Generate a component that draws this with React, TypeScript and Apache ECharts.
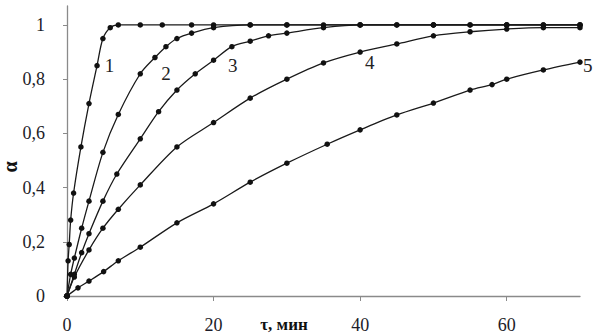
import React, { useEffect, useRef } from "react";
import * as echarts from "echarts";

// [τ (min), α]
const curve1: number[][] = [
  [0, 0], [0.15, 0.13], [0.3, 0.19], [0.5, 0.28], [0.9, 0.38], [1.9, 0.55], [3, 0.71],
  [4.1, 0.85], [4.9, 0.95], [5.9, 0.99], [7, 1], [10, 1], [13, 1], [17, 1], [20, 1],
  [25, 1], [30, 1], [35, 1], [40, 1], [45, 1], [50, 1], [55, 1], [60, 1], [65, 1], [70, 1],
];
const curve2: number[][] = [
  [0, 0], [0.5, 0.08], [1, 0.14], [2, 0.25], [3, 0.35], [4.9, 0.53], [7, 0.67], [10, 0.82],
  [12, 0.88], [13.5, 0.92], [15, 0.95], [17, 0.97], [20, 0.99], [25, 1], [30, 1], [40, 1],
  [50, 1], [60, 1], [70, 1],
];
const curve3: number[][] = [
  [0, 0], [1, 0.08], [2, 0.16], [3, 0.23], [4.9, 0.35], [6.8, 0.45], [10, 0.58], [12.5, 0.68],
  [15, 0.76], [17.5, 0.82], [20, 0.87], [22.5, 0.92], [25, 0.94], [27.5, 0.96], [30, 0.97],
  [35, 0.99], [40, 1], [45, 1], [50, 1], [55, 1], [60, 1], [65, 1], [70, 1],
];
const curve4: number[][] = [
  [0, 0], [1, 0.07], [3, 0.17], [4.9, 0.25], [7, 0.32], [10, 0.41], [15, 0.55], [20, 0.64],
  [25, 0.73], [30, 0.8], [35, 0.86], [40, 0.9], [45, 0.93], [50, 0.96], [55, 0.975],
  [60, 0.985], [65, 0.99], [70, 0.99],
];
const curve5: number[][] = [
  [0, 0], [1.5, 0.03], [3, 0.055], [5, 0.09], [7, 0.13], [10, 0.18], [15, 0.27], [20, 0.34],
  [25, 0.42], [30, 0.49], [35.5, 0.56], [40, 0.613], [45, 0.668], [50, 0.712], [55, 0.76],
  [58, 0.78], [60, 0.8], [65, 0.834], [70, 0.863],
];
const curves = [curve1, curve2, curve3, curve4, curve5];
const curveNames = ["1", "2", "3", "4", "5"];
// label anchor positions in data space [τ, α]; curve 5 uses an end label
const labelPos: (number[] | null)[] = [[5.8, 0.85], [13.5, 0.82], [22.6, 0.85], [41.3, 0.86], null];

const yTicks = [0, 0.2, 0.4, 0.6, 0.8, 1];
const xTicks = [0, 20, 40, 60];

const FONT = "'Liberation Serif', 'Times New Roman', serif";

export default function App() {
  const ref = useRef<HTMLDivElement>(null);
  useEffect(() => {
    if (!ref.current) return;
    const chart = echarts.init(ref.current, undefined, { renderer: "svg" });
    chart.setOption({
      animation: false,
      backgroundColor: "#fff",
      grid: { left: 67, right: 18, top: 6, bottom: 38, containLabel: false },
      xAxis: {
        type: "value",
        min: 0,
        max: 70,
        interval: 20,
        splitLine: { show: false },
        axisLine: { show: true, onZero: false, lineStyle: { color: "#8a8a8a", width: 1.3 } },
        axisTick: { show: true, length: 5, customValues: xTicks, lineStyle: { color: "#8a8a8a" } },
        axisLabel: {
          customValues: xTicks,
          margin: 20,
          fontFamily: FONT,
          fontSize: 18,
          color: "#1c1c28",
        },
      },
      yAxis: {
        type: "value",
        min: 0,
        max: 1.07,
        interval: 0.2,
        splitLine: { show: false },
        axisLine: { show: true, onZero: false, lineStyle: { color: "#8a8a8a", width: 1.3 } },
        axisTick: { show: true, length: 4, customValues: yTicks, lineStyle: { color: "#8a8a8a" } },
        axisLabel: {
          customValues: yTicks,
          margin: 22,
          fontFamily: FONT,
          fontSize: 18,
          color: "#1c1c28",
          formatter: (v: number) => String(Math.round(v * 10) / 10).replace(".", ","),
        },
      },
      graphic: [
        {
          type: "text",
          x: 10,
          y: 167,
          rotation: Math.PI / 2,
          style: {
            text: "α",
            font: `bold 20px ${FONT}`,
            fill: "#111",
            align: "center",
            verticalAlign: "middle",
          },
        },
        {
          type: "text",
          x: 284,
          y: 324,
          style: {
            text: "τ, мин",
            font: `bold 17px ${FONT}`,
            fill: "#111",
            align: "center",
            verticalAlign: "middle",
          },
        },
      ],
      series: curves.map((data, i) => {
        const s: any = {
          type: "line",
          name: curveNames[i],
          data,
          smooth: 0.3,
          symbol: "circle",
          symbolSize: 5.5,
          lineStyle: { color: "#1a1a1a", width: 1.3 },
          itemStyle: { color: "#111" },
          z: 2,
        };
        const lp = labelPos[i];
        if (lp) {
          s.markPoint = {
            symbol: "circle",
            symbolSize: 0,
            silent: true,
            label: {
              show: true,
              position: "inside",
              formatter: curveNames[i],
              fontFamily: FONT,
              fontSize: 19,
              color: "#222",
            },
            data: [{ coord: lp, value: curveNames[i] }],
          };
        } else {
          s.endLabel = {
            show: true,
            formatter: curveNames[i],
            fontFamily: FONT,
            fontSize: 19,
            color: "#222",
            distance: 3,
            align: "left",
            verticalAlign: "middle",
            offset: [0, 3],
          };
        }
        return s;
      }),
    });
    return () => chart.dispose();
  }, []);
  return <div ref={ref} style={{ width: 598, height: 334, position: "fixed", left: 0, top: 0 }} />;
}
